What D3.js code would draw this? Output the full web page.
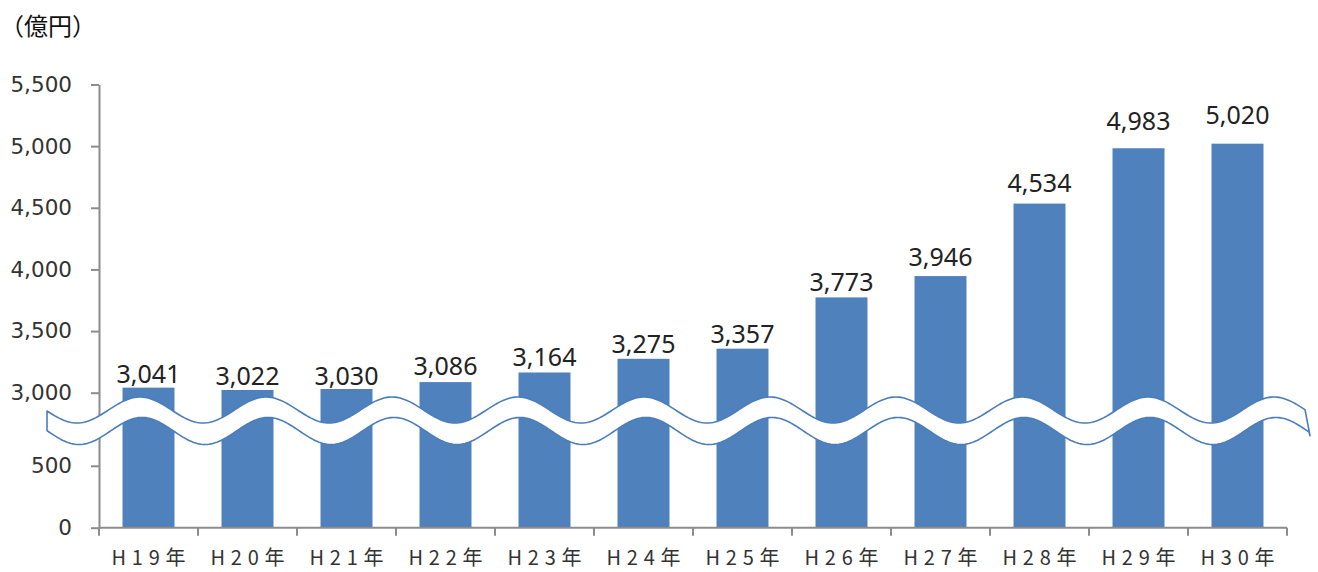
<!DOCTYPE html>
<html>
<head>
<meta charset="utf-8">
<script src="https://cdn.jsdelivr.net/npm/d3@7"></script>
<style>
  body { margin: 0; background: #fff; }
  svg { display: block; }
</style>
</head>
<body>
<script>
// data
const years = ["H19年", "H20年", "H21年", "H22年", "H23年", "H24年",
               "H25年", "H26年", "H27年", "H28年", "H29年", "H30年"]
const amounts = [3041, 3022, 3030, 3086, 3164, 3275, 3357, 3773, 3946, 4534, 4983, 5020]
const yTicks = [0, 500, 3000, 3500, 4000, 4500, 5000, 5500]
const unitLabel = "（億円）"

// the labels sit a bit higher over the taller bars in the original
const labelGap = [5, 5, 4, 7, 6, 6, 6, 6, 10, 12, 18, 20]

const W = 1318, H = 572
const barColor = "#4f81bd"
const axisColor = "#8c8c8c"

const svg = d3.select("body").append("svg")
  .attr("width", W)
  .attr("height", H)

// broken axis: 0..500 below the wave, 3000..5500 above it
const y = d3.scaleLinear()
  .domain([0, 500, 3000, 5500])
  .range([527.7, 465.8, 392.7, 84.5])

const x = d3.scaleBand()
  .domain(years)
  .range([99, 1287])
  .paddingInner(0.475)
  .paddingOuter(0.2375)

// bars
svg.append("g").selectAll("rect")
  .data(amounts)
  .join("rect")
    .attr("x", (d, i) => x(years[i]))
    .attr("y", d => y(d))
    .attr("width", x.bandwidth())
    .attr("height", d => y(0) - y(d))
    .style("fill", barColor)

// y axis
const yAxis = svg.append("g")
  .attr("transform", "translate(99,0)")
  .call(d3.axisLeft(y).tickValues(yTicks).tickFormat(d3.format(",")).tickSize(8).tickSizeOuter(0).tickPadding(19))
yAxis.select(".domain").attr("stroke", axisColor).attr("stroke-width", 2)
yAxis.selectAll(".tick line").attr("stroke", axisColor).attr("stroke-width", 2)
yAxis.selectAll(".tick text")
  .attr("fill", "#333")
  .style("font-family", "DejaVu Sans")
  .style("font-size", "21.5px")

// x axis, ticks between the categories
const xg = svg.append("g")
const step = x.step()
const bounds = years.map(c => x(c) - (step - x.bandwidth()) / 2)
bounds.push(x.range()[1])
xg.append("line")
  .attr("x1", x.range()[0]).attr("x2", x.range()[1])
  .attr("y1", y(0)).attr("y2", y(0))
  .attr("stroke", axisColor).attr("stroke-width", 2)
xg.selectAll("line.tk")
  .data(bounds)
  .join("line")
    .attr("class", "tk")
    .attr("x1", d => d).attr("x2", d => d)
    .attr("y1", y(0)).attr("y2", y(0) + 8)
    .attr("stroke", axisColor).attr("stroke-width", 2)
xg.selectAll("text")
  .data(years)
  .join("text")
    .attr("x", d => x(d) + x.bandwidth() / 2)
    .attr("y", 565)
    .attr("text-anchor", "middle")
    .attr("textLength", 74)
    .attr("lengthAdjust", "spacing")
    .style("font-family", "'Noto Sans CJK JP'")
    .style("font-size", "20px")
    .style("fill", "#333")
    .text(d => d)

// the wave marking the break
const topY = px => 410 - 13 * Math.cos(2 * Math.PI * (px - 140) / 126)
const botY = px => 431 - 13.5 * Math.cos(2 * Math.PI * (px - 142) / 126)
const waveTop = d3.range(47, 1306, 2).map(px => [px, topY(px)])
const waveBot = d3.range(47, 1311, 2).map(px => [px, botY(px)])
const outline = waveTop.concat([[1305, topY(1305)], [1310, botY(1310) + 3]], waveBot.slice().reverse())
svg.append("path")
  .attr("d", d3.line()(outline) + "Z")
  .style("fill", "#fff")
  .style("stroke", "#4a7ebb")
  .style("stroke-width", 1.6)
  .style("stroke-linejoin", "round")

// value labels
svg.append("g").selectAll("text")
  .data(amounts)
  .join("text")
    .attr("x", (d, i) => x(years[i]) + x.bandwidth() / 2)
    .attr("y", (d, i) => y(d) - labelGap[i])
    .attr("text-anchor", "middle")
    .style("font-family", "'Noto Sans'")
    .style("font-size", "25px")
    .style("fill", "#222")
    .text(d => d3.format(",")(d))

// unit
svg.append("text")
  .attr("x", 0)
  .attr("y", 35)
  .style("font-family", "'Noto Sans CJK JP'")
  .style("font-size", "24px")
  .style("fill", "#111")
  .text(unitLabel)
</script>
</body>
</html>
